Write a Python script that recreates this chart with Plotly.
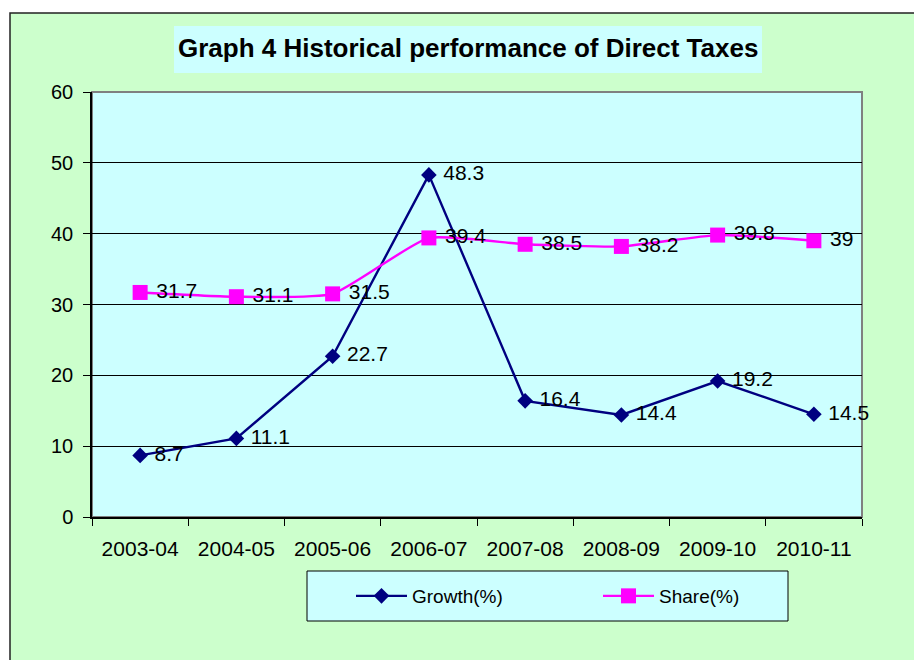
import plotly.graph_objects as go

years = ["2003-04", "2004-05", "2005-06", "2006-07", "2007-08", "2008-09", "2009-10", "2010-11"]
growth = [8.7, 11.1, 22.7, 48.3, 16.4, 14.4, 19.2, 14.5]
share = [31.7, 31.1, 31.5, 39.4, 38.5, 38.2, 39.8, 39]
title_text = "Graph 4 Historical performance of Direct Taxes"

W, H = 922, 660
OFF = 8  # page body margin in the browser
# plot area in screenshot pixels
L, R, T, B = 92, 862, 92, 517

def px(x):
    return (x - L) / (R - L)

def py(y):
    return (B - y) / (B - T)

FONT = "Liberation Sans, Arial, sans-serif"
NB = "\u00a0"

fig = go.Figure()
fig.add_trace(go.Scatter(
    x=years, y=growth, name="Growth(%)", mode="lines+markers+text",
    line=dict(color="#000080", width=2.4),
    marker=dict(symbol="diamond", size=12, color="#000080"),
    text=[NB + str(v) for v in growth], textposition="middle right",
    textfont=dict(family=FONT, size=21, color="#000000"),
    cliponaxis=False,
))
fig.add_trace(go.Scatter(
    x=years, y=share, name="Share(%)", mode="lines+markers+text",
    line=dict(color="#FF00FF", width=2.4, shape="spline", smoothing=0.5),
    marker=dict(symbol="square", size=15, color="#FF00FF"),
    text=[NB + str(v) for v in share], textposition="middle right",
    textfont=dict(family=FONT, size=21, color="#000000"),
    cliponaxis=False,
))

shapes = [
    # outer chart area
    dict(type="rect", xref="paper", yref="paper", layer="below",
         x0=px(10), x1=px(960), y0=py(700), y1=py(13),
         fillcolor="#CCFFCC", line=dict(color="#222222", width=1.5)),
    # plot area
    dict(type="rect", xref="paper", yref="paper", layer="below",
         x0=0, x1=1, y0=0, y1=1,
         fillcolor="#CCFFFF", line=dict(color="#808080", width=2)),
    # title box
    dict(type="rect", xref="paper", yref="paper", layer="below",
         x0=px(174), x1=px(762), y0=py(73), y1=py(26),
         fillcolor="#CCFFFF", line=dict(width=0)),
    # legend box
    dict(type="rect", xref="paper", yref="paper", layer="below",
         x0=px(307), x1=px(788), y0=py(621), y1=py(571),
         fillcolor="#CCFFFF", line=dict(color="#000000", width=1)),
]

fig.update_layout(
    width=W, height=H,
    margin=dict(l=L - OFF, r=W - (R - OFF), t=T - OFF, b=H - (B - OFF), pad=0),
    paper_bgcolor="#FFFFFF",
    plot_bgcolor="rgba(0,0,0,0)",
    font=dict(family=FONT, size=20, color="#000000"),
    shapes=shapes,
    annotations=[dict(
        text="<b>" + title_text + "</b>", xref="paper", yref="paper",
        x=px(468), y=py(48), xanchor="center", yanchor="middle",
        showarrow=False, font=dict(family=FONT, size=26, color="#000000"),
    )],
    showlegend=True,
    legend=dict(
        orientation="h", x=px(351), y=py(596), xanchor="left", yanchor="middle",
        bgcolor="rgba(0,0,0,0)", borderwidth=0,
        entrywidth=181, entrywidthmode="pixels", itemwidth=51,
        font=dict(family=FONT, size=19, color="#000000"),
    ),
    xaxis=dict(
        type="category", range=[-0.5, 7.5], tickson="boundaries",
        showgrid=False, showline=True, linecolor="#000000", linewidth=1.5,
        ticks="outside", ticklen=7, tickcolor="#000000", tickwidth=1,
        ticklabelstandoff=12, tickangle=0, tickfont=dict(size=21), zeroline=False,
    ),
    yaxis=dict(
        range=[0, 60], dtick=10, showgrid=True, gridcolor="#000000", gridwidth=1,
        showline=True, linecolor="#000000", linewidth=1.5,
        ticks="outside", ticklen=7, tickcolor="#000000", tickwidth=1,
        ticklabelstandoff=6, tickfont=dict(size=20), zeroline=False,
    ),
)

fig.write_html("out.html")
